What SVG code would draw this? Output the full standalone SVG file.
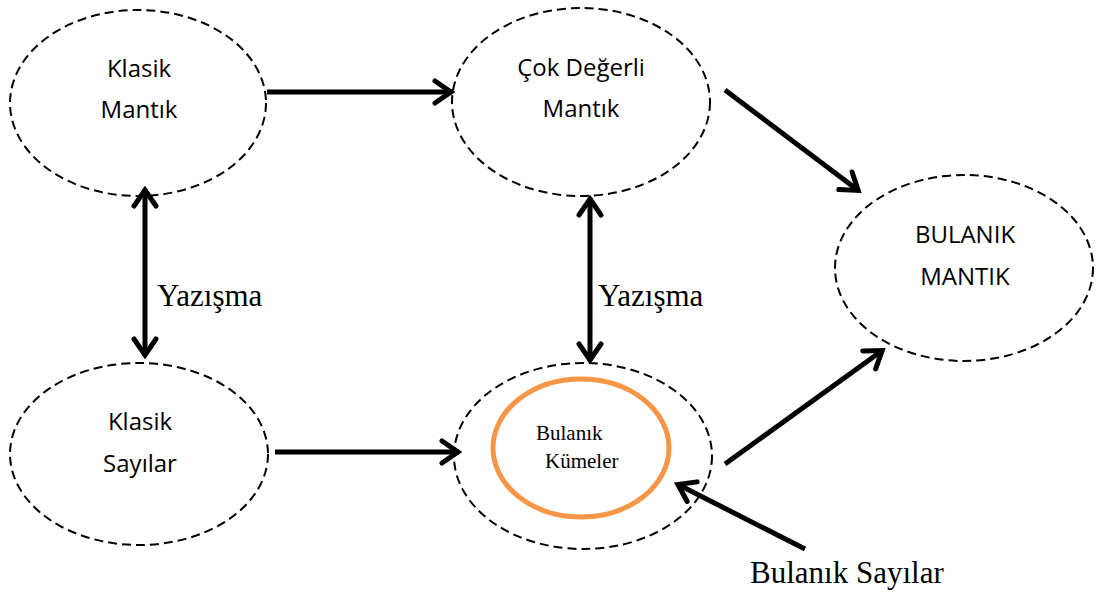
<svg xmlns="http://www.w3.org/2000/svg" width="1099" height="594" viewBox="0 0 1099 594">
<style>
.node{fill:none;stroke:#000;stroke-width:2;stroke-dasharray:9 5}
.inner{fill:none;stroke:#F79646;stroke-width:5}
.lbl{font-family:"Open Sans","Liberation Sans",sans-serif;font-size:24px;fill:#000;text-anchor:middle}
.ser{font-family:"Liberation Serif","Times New Roman",serif;fill:#000}
.conn{stroke:#000;stroke-width:5;fill:none}
</style>
<defs>
<marker id="ah" markerUnits="userSpaceOnUse" viewBox="-22 -16 26 32" refX="1" refY="0" markerWidth="26" markerHeight="32" orient="auto-start-reverse">
<path d="M-16,-11 L0,0 L-16,11" fill="none" stroke="#000" stroke-width="5" stroke-linecap="round" stroke-linejoin="miter"/>
</marker>
</defs>
<rect width="1099" height="594" fill="#fff"/>
<g id="klasik-mantik">
<ellipse class="node" cx="138" cy="103" rx="128" ry="93"/>
<text class="lbl" x="139" y="77">Klasik</text>
<text class="lbl" x="139" y="118">Mantık</text>
</g>
<g id="cok-degerli-mantik">
<ellipse class="node" cx="581" cy="102" rx="129" ry="94"/>
<text class="lbl" x="581" y="76">Çok Değerli</text>
<text class="lbl" x="581" y="117">Mantık</text>
</g>
<g id="bulanik-mantik">
<ellipse class="node" cx="964" cy="268" rx="129" ry="93"/>
<text class="lbl" x="965" y="243">BULANIK</text>
<text class="lbl" x="965" y="285">MANTIK</text>
</g>
<g id="klasik-sayilar">
<ellipse class="node" cx="139" cy="454" rx="129" ry="91"/>
<text class="lbl" x="140" y="430">Klasik</text>
<text class="lbl" x="140" y="472">Sayılar</text>
</g>
<g id="bulanik-kumeler">
<ellipse class="node" cx="583" cy="456" rx="129" ry="93"/>
<ellipse class="inner" cx="581" cy="448" rx="88" ry="69"/>
<text class="ser" x="536" y="440" font-size="21">Bulanık</text>
<text class="ser" x="545" y="468" font-size="21">Kümeler</text>
</g>
<g id="connectors">
<line class="conn" x1="267" y1="92" x2="452" y2="92" marker-end="url(#ah)"/>
<line class="conn" x1="725" y1="90" x2="859" y2="191" marker-end="url(#ah)"/>
<line class="conn" x1="145" y1="189" x2="145" y2="356" marker-start="url(#ah)" marker-end="url(#ah)"/>
<line class="conn" x1="590" y1="198" x2="590" y2="361" marker-start="url(#ah)" marker-end="url(#ah)"/>
<line class="conn" x1="275" y1="452" x2="459" y2="452" marker-end="url(#ah)"/>
<line class="conn" x1="725" y1="464" x2="883" y2="350" marker-end="url(#ah)"/>
<line class="conn" x1="805" y1="549" x2="677" y2="484" marker-end="url(#ah)"/>
</g>
<g id="labels">
<text class="ser" x="157" y="306" font-size="31">Yazışma</text>
<text class="ser" x="598" y="306" font-size="31">Yazışma</text>
<text class="ser" x="750" y="583" font-size="31">Bulanık Sayılar</text>
</g>
</svg>
